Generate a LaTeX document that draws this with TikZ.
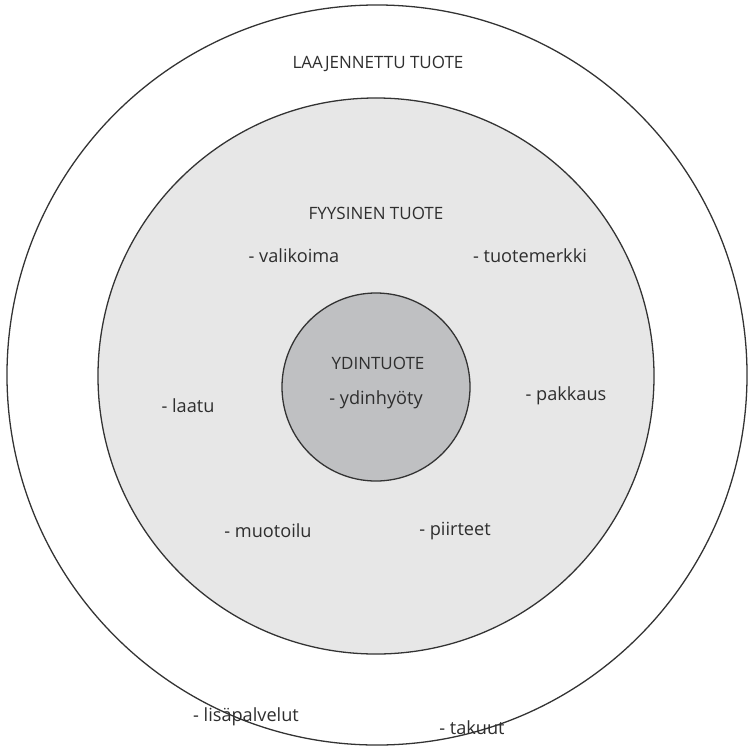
\documentclass[tikz,border=0pt]{standalone}
\usepackage{fontspec}
\setmainfont{Open Sans}
\usepackage{tikz}

\definecolor{ringline}{HTML}{333333}
\definecolor{midfill}{HTML}{E7E7E7}
\definecolor{corefill}{HTML}{BFC0C2}
\definecolor{labelgray}{HTML}{2E2E2E}

\tikzset{
  ring/.style={draw=ringline, line width=1.1pt},
  lbl/.style={text=labelgray, font=\fontsize{14.5}{17}\selectfont, inner sep=0pt},
  item/.style={lbl, font=\fontsize{15.5}{18}\selectfont}
}

\begin{document}
\begin{tikzpicture}[x=0.03cm, y=-0.03cm]
\useasboundingbox[fill=white] (0,0) rectangle (748,749);

% Rings
\draw[ring, fill=white] (377,375) circle (11.1cm);
\draw[ring, fill=midfill] (376,376) circle (8.34cm);
\draw[ring, fill=corefill] (376,387) circle (2.82cm);

% Outer ring labels
\node[lbl] (laaj) at (378,64) {LAAJENNETTU TUOTE};
\node[item] (lisa) at (246,717) {- lisäpalvelut};
\node[item] (taku) at (472,728) {- takuut};

% Middle ring labels
\node[lbl] (fyys) at (376,213) {FYYSINEN TUOTE};
\node[item] (vali) at (294,256) {- valikoima};
\node[item] (tuot) at (530,256) {- tuotemerkki};
\node[item] (laat) at (188,406) {- laatu};
\node[item] (pakk) at (566,396) {- pakkaus};
\node[item] (muot) at (268,531) {- muotoilu};
\node[item] (piir) at (455,531) {- piirteet};

% Core labels
\node[lbl] (ydin) at (378,363) {YDINTUOTE};
\node[item] (hyot) at (376,400) {- ydinhyöty};
\end{tikzpicture}
\end{document}
